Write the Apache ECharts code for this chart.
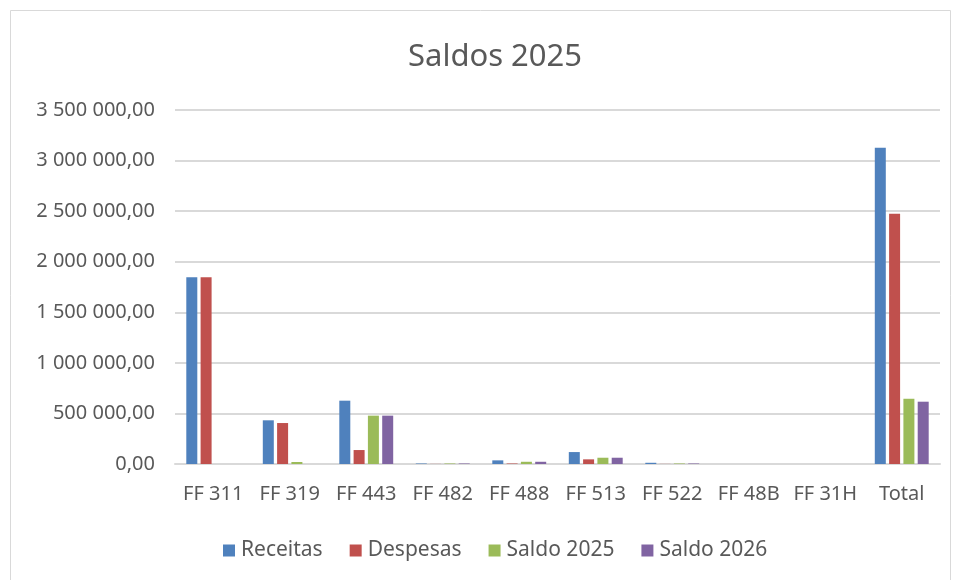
<!DOCTYPE html>
<html><head><meta charset="utf-8">
<script src="https://cdn.jsdelivr.net/npm/echarts@6/dist/echarts.min.js"></script>
<style>html,body{margin:0;padding:0;background:#fff}#c{width:958px;height:580px}</style>
</head><body><div id="c"></div>
<script>
const categories = ["FF 311","FF 319","FF 443","FF 482","FF 488","FF 513","FF 522","FF 48B","FF 31H","Total"];
const receitas  = [1846000, 432000, 626000, 5000, 36000, 118000, 12000, 0, 0, 3127000];
const despesas  = [1846000, 405000, 138000, 1000, 5000, 46000, 1000, 0, 0, 2475000];
const saldo2025 = [0, 20000, 478000, 5000, 22000, 62000, 5000, 0, 0, 645000];
const saldo2026 = [0, 0, 478000, 5000, 22000, 62000, 5000, 0, 0, 616000];
const seriesNames = ["Receitas","Despesas","Saldo 2025","Saldo 2026"];
const colors = ["#4f81bd","#c0504d","#9bbb59","#8064a2"];

function fmt(v){
  const s = Math.round(v).toString().replace(/\B(?=(\d{3})+(?!\d))/g, " ");
  return s + ",00";
}
const chart = echarts.init(document.getElementById('c'));
const data = [receitas, despesas, saldo2025, saldo2026];
chart.setOption({
  animation:false,
  backgroundColor:'#fff',
  color: colors,
  title:{text:'Saldos 2025', left:490, top:37, textAlign:'center',
    textStyle:{fontFamily:'Noto Sans', fontSize:31, fontWeight:'normal', color:'#595959'}},
  grid:{left:175, right:18, top:110, bottom:116, containLabel:false},
  legend:{top:535, left:218, itemWidth:12, itemHeight:12, itemGap:27,
    icon:'rect', textStyle:{fontFamily:'Noto Sans', fontSize:21, color:'#595959', padding:[0,0,0,1]},
    data: seriesNames},
  xAxis:{type:'category', data:categories,
    axisLine:{lineStyle:{color:'#d9d9d9', width:2}}, axisTick:{show:false},
    axisLabel:{fontFamily:'Noto Sans', fontSize:20, color:'#595959', margin:20, interval:0}},
  yAxis:{type:'value', min:0, max:3500000, interval:500000,
    axisLine:{show:false}, axisTick:{show:false},
    splitLine:{lineStyle:{color:'#d9d9d9', width:2}},
    axisLabel:{fontFamily:'Noto Sans', fontSize:20, color:'#595959', margin:20, formatter:fmt}},
  series: seriesNames.map((n,i)=>({name:n, type:'bar', data:data[i], barWidth:11, barGap:'30%',
    itemStyle:{color:colors[i]}})),
  graphic:[{type:'rect', shape:{x:10.5, y:10.5, width:940, height:580}, style:{fill:'none', stroke:'#d9d9d9', lineWidth:1}, silent:true}]
});
</script></body></html>
